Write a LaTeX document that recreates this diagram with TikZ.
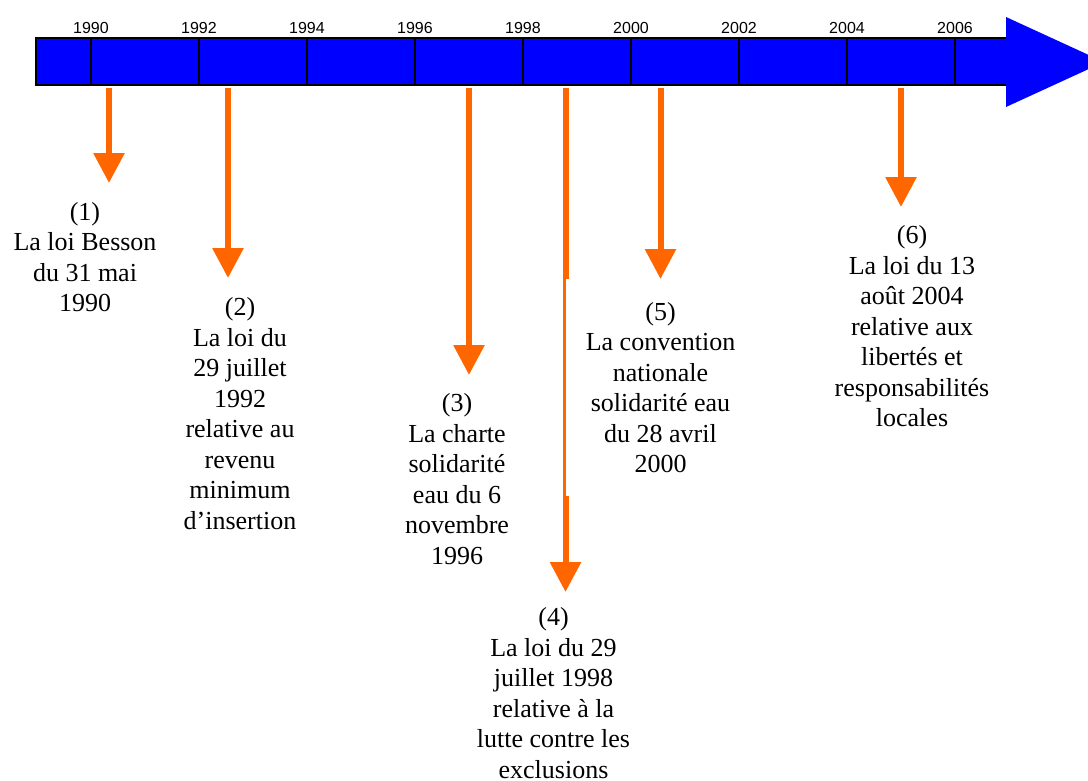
\documentclass[tikz,border=0pt]{standalone}
\usepackage{fontspec}
\setmainfont{Liberation Serif}
\setsansfont{Liberation Sans}
\usetikzlibrary{arrows.meta}
\definecolor{bleuFrise}{HTML}{0000FF}
\definecolor{orangeFl}{HTML}{FF6600}

\begin{document}
\begin{tikzpicture}[x=1pt, y=-1pt,
	annee/.style = {font=\sffamily\fontsize{16}{16}\selectfont, inner sep=0pt},
	evt/.style = {font=\fontsize{26}{30.5}\selectfont, align=center, inner sep=0pt},
	fleche/.style = {draw=orangeFl, line width=6pt, -{Triangle[width=30pt, length=30pt]}}]
	\useasboundingbox (0,0) rectangle (1088,780);
	\clip (0,0) rectangle (1088,780);
	% la frise
	\draw[fill=bleuFrise, line width=1.5pt] (36,38) rectangle (1007,85);
	\foreach \x/\an in {91/1990, 199/1992, 307/1994, 415/1996, 523/1998, 631/2000, 739/2002, 847/2004, 955/2006} {
		\draw[line width=1.5pt] (\x,38) -- (\x,85);
		\node[annee] (a\an) at (\x,28) {\an};
	}
	\fill[bleuFrise] (1006,17) -- (1104,62) -- (1006,107) -- cycle;
	% les fleches
	\coordinate (d1) at (109,88);   \coordinate (f1) at (109,183);
	\coordinate (d2) at (228,88);   \coordinate (f2) at (228,278);
	\coordinate (d3) at (469,88);   \coordinate (f3) at (469,375);
	\coordinate (d4) at (565.5,88); \coordinate (f4) at (565.5,592);
	\coordinate (d5) at (660.5,88); \coordinate (f5) at (660.5,279);
	\coordinate (d6) at (901,88);   \coordinate (f6) at (901,207);
	\draw[fleche] (d1) -- (f1);
	\draw[fleche] (d2) -- (f2);
	\draw[fleche] (d3) -- (f3);
	\draw[fleche] (d4) -- (f4);
	% les textes
	\node[evt] (t1) at (85,257) {(1)\\La loi Besson\\du 31 mai\\1990};
	\node[evt] (t2) at (240,413.5) {(2)\\La loi du\\29 juillet\\1992\\relative au\\revenu\\minimum\\d’insertion};
	\node[evt] (t3) at (457,479) {(3)\\La charte\\solidarité\\eau du 6\\novembre\\1996};
	\node[evt] (t4) at (553.5,693) {(4)\\La loi du 29\\juillet 1998\\relative à la\\lutte contre les\\exclusions};
	\node[evt, fill=white, minimum width=190pt, minimum height=217pt] (t5) at (660.5,387.5) {(5)\\La convention\\nationale\\solidarité eau\\du 28 avril\\2000};
	\node[evt] (t6) at (912,326.5) {(6)\\La loi du 13\\août 2004\\relative aux\\libertés et\\responsabilités\\locales};
	\draw[fleche] (d5) -- (f5);
	\draw[fleche] (d6) -- (f6);
\end{tikzpicture}
\end{document}
